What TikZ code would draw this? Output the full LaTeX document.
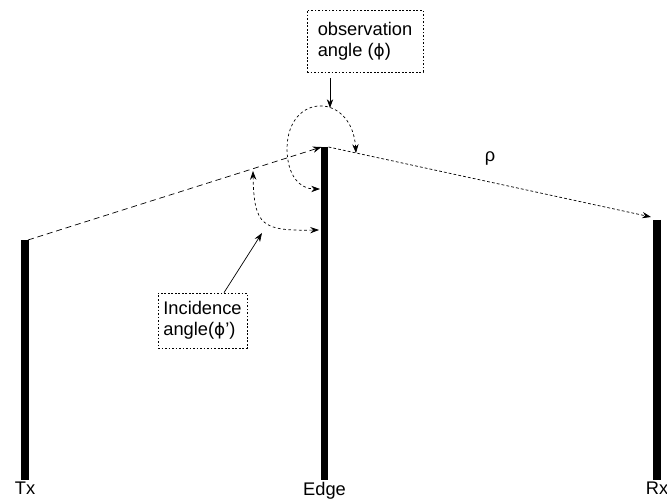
\documentclass[tikz,border=0pt]{standalone}
\usepackage{fontspec}
\setmainfont{Liberation Sans}
\newfontfamily\grk{DejaVu Sans}
\usetikzlibrary{arrows.meta, positioning, calc}

\begin{document}
\begin{tikzpicture}[
    x=0.02cm, y=-0.02cm,
    font=\fontsize{10.4}{12}\selectfont,
    pole/.style={line width=4pt, line cap=butt},
    tag/.style={draw, dash pattern=on 1pt off 1pt, align=left, inner sep=0pt},
    tip/.style={-{Stealth[length=5pt, width=3.6pt]}},
    ray/.style={thin, dash pattern=on 3.4pt off 2.2pt},
    faint/.style={thin, dash pattern=on 1.6pt off 1.2pt},
    swing/.style={thin, dash pattern=on 1.5pt off 1.5pt, {Stealth[length=5pt, width=3.6pt]}-{Stealth[length=5pt, width=3.6pt]}}
]
    \useasboundingbox (0,0) rectangle (667,499);

    % Antennas and edge
    \coordinate (txtop) at (25,240);
    \coordinate (txbot) at (25,480);
    \coordinate (edgetop) at (324.5,147);
    \coordinate (edgebot) at (324.5,480);
    \coordinate (rxtop) at (657,220);
    \coordinate (rxbot) at (657,480);
    \draw[pole] (txtop) -- (txbot);
    \draw[pole] (edgetop) -- (edgebot);
    \draw[pole] (rxtop) -- (rxbot);

    \node[below=0pt of txbot, inner sep=1pt] (tx) {Tx};
    \node[below=0pt of edgebot, inner sep=1pt] (edge) {Edge};
    \node[below=0pt of rxbot, inner sep=1pt] (rx) {Rx};

    % Rays
    \draw[ray, tip] ($(txtop)+(3,0)$) -- ($(edgetop)+(-3,0)$);
    \draw[faint, tip] ($(edgetop)+(4,0)$) -- ($(rxtop)+(-6,-3)$);
    \node (rho) at (490,158) {ρ};

    % Angles
    \coordinate (obsa) at (356,153);
    \coordinate (obsb) at (320,189);
    \draw[swing] (obsa) .. controls (352,92) and (288,92) .. (287,148)
        .. controls (287,176) and (300,189) .. (obsb);
    \coordinate (inca) at (253,171);
    \coordinate (incb) at (319,230);
    \draw[swing] (inca) .. controls (254,226) and (262,231) .. (incb);

    % Labels
    \node[tag, minimum width=2.32cm, minimum height=1.24cm] (obs) at (365,41) {observation\\angle ({\grk\fontsize{9.6}{12}\selectfont ϕ})};
    \node[tag, minimum width=1.78cm, minimum height=1.1cm] (inc) at (202.5,320.5) {Incidence\\angle({\grk\fontsize{9.6}{12}\selectfont ϕ}')};
    \draw[thin, tip] (obs.south -| 330,0) ++(0,6) -- (330,108);
    \draw[thin, tip] (inc.north -| 224,0) -- (262,233);
\end{tikzpicture}
\end{document}
